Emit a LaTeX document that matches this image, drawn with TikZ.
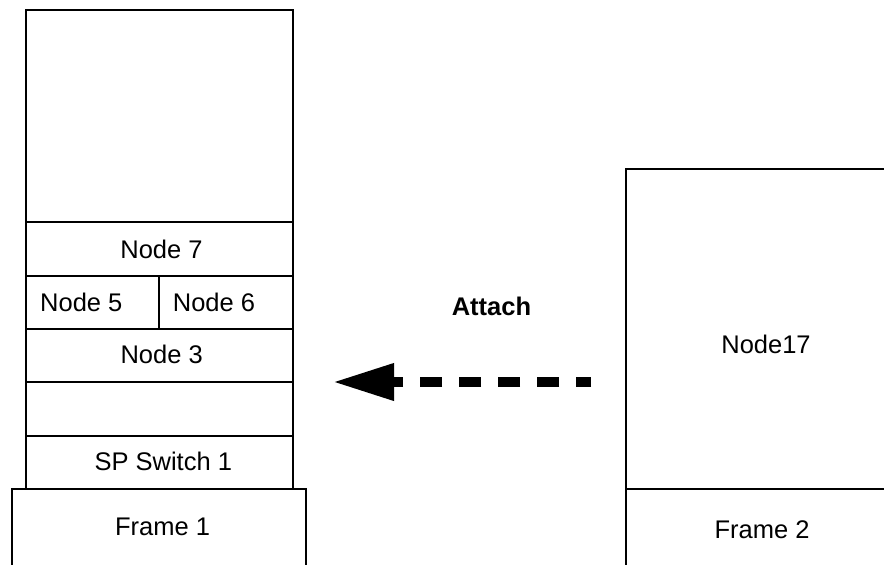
\documentclass[tikz,border=0pt]{standalone}
\usepackage{fontspec}
\setmainfont{Liberation Sans}
\usetikzlibrary{arrows.meta}
\begin{document}
\begin{tikzpicture}[x=1pt,y=-1pt,
  box/.style={draw=black,line width=2pt},
  lbl/.style={inner sep=0pt,font=\fontsize{25.5}{30}\selectfont},
  lblb/.style={inner sep=0pt,font=\fontsize{25.5}{30}\selectfont\bfseries}]
\useasboundingbox (0,0) rectangle (884,565);
\clip (0,0) rectangle (884,565);
% left frame
\draw[box] (26,10) rectangle (293,222);
\draw[box] (26,222) rectangle (293,276);
\draw[box] (26,276) rectangle (159,329);
\draw[box] (159,276) rectangle (293,329);
\draw[box] (26,329) rectangle (293,382);
\draw[box] (26,382) rectangle (293,436);
\draw[box] (26,436) rectangle (293,489);
\draw[box] (12,489) rectangle (306,580);
% right frame
\draw[box] (626,169) rectangle (900,489);
\draw[box] (626,489) rectangle (900,580);
% labels
\node[lbl] (n7) at (161.5,249) {Node 7};
\node[lbl,anchor=west] (n5) at (40,302.5) {Node 5};
\node[lbl,anchor=west] (n6) at (172.7,302.5) {Node 6};
\node[lbl] (n3) at (161.7,354) {Node 3};
\node[lbl] (sp) at (163.3,461) {SP Switch 1};
\node[lbl] (f1) at (162.5,527) {Frame 1};
\node[lbl] (n17) at (766,344.5) {Node17};
\node[lbl] (f2) at (762,529.5) {Frame 2};
\node[lblb] (att) at (491.5,306.7) {Attach};
% arrow
\coordinate (astart) at (591,382);
\coordinate (atip) at (333,382);
\draw[line width=10pt,dash pattern=on 22pt off 17pt,dash phase=7pt,
  -{Triangle[length=61pt,width=35pt]}] (astart) -- (atip);
\end{tikzpicture}
\end{document}
